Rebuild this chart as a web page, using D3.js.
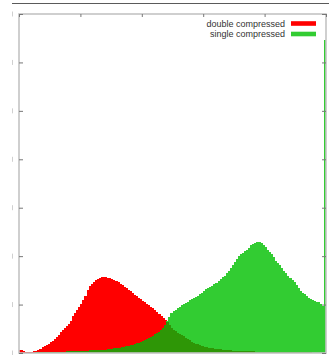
<!DOCTYPE html>
<html>
<head>
<meta charset="utf-8">
<script src="https://cdn.jsdelivr.net/npm/d3@7"></script>
<style>
  html, body { margin: 0; padding: 0; background: #fff; }
  svg { display: block; }
</style>
</head>
<body>
<svg id="chart" width="329" height="355"></svg>
<script>
// Histogram: share of blocks per bin (150 bins), two overlapping distributions
const seriesNames = ["double compressed", "single compressed"];
const seriesColors = ["#ff0000", "#32cc32"];
const overlapColor = "#2e9606";

const binCount = 150;
const yTicks = [0, 1, 2, 3, 4, 5, 6, 7];
const xTicks = [0, 30, 60, 90, 120, 150];

const doubleCompressed = [
  0.062,0.052,0.035,0.025,0.021,0.021,0.025,0.031,0.041,0.062,
  0.089,0.114,0.140,0.165,0.190,0.217,0.248,0.283,0.326,0.372,
  0.427,0.475,0.516,0.557,0.603,0.671,0.754,0.830,0.888,0.940,
  1.012,1.094,1.187,1.301,1.383,1.435,1.476,1.511,1.532,1.549,
  1.559,1.565,1.563,1.557,1.547,1.528,1.503,1.483,1.462,1.435,
  1.404,1.371,1.338,1.305,1.270,1.237,1.202,1.171,1.138,1.107,
  1.078,1.045,1.014,0.985,0.954,0.921,0.886,0.849,0.811,0.772,
  0.727,0.681,0.630,0.568,0.520,0.483,0.450,0.423,0.396,0.368,
  0.341,0.314,0.289,0.262,0.237,0.215,0.194,0.176,0.159,0.145,
  0.132,0.122,0.113,0.105,0.097,0.090,0.084,0.078,0.073,0.068,
  0.064,0.059,0.056,0.053,0.050,0.048,0.046,0.044,0.042,0.040,
  0.038,0.036,0.034,0.033,0.031,0.030,0.029,0.027,0.026,0.025,
  0.024,0.023,0.022,0.021,0.020,0.019,0.018,0.018,0.017,0.016,
  0.016,0.015,0.015,0.014,0.014,0.013,0.013,0.012,0.012,0.012,
  0.011,0.011,0.011,0.010,0.010,0.010,0.010,0.009,0.009,0.009
];

const singleCompressed = [
  0.006,0.007,0.008,0.008,0.009,0.009,0.010,0.010,0.011,0.012,
  0.014,0.015,0.016,0.017,0.018,0.019,0.020,0.021,0.022,0.023,
  0.025,0.028,0.030,0.032,0.035,0.037,0.039,0.040,0.041,0.042,
  0.043,0.045,0.048,0.050,0.052,0.054,0.056,0.058,0.060,0.062,
  0.065,0.066,0.070,0.074,0.083,0.089,0.095,0.101,0.105,0.109,
  0.120,0.128,0.138,0.149,0.159,0.173,0.186,0.198,0.215,0.233,
  0.252,0.273,0.289,0.310,0.330,0.361,0.386,0.413,0.440,0.475,
  0.506,0.568,0.661,0.743,0.816,0.857,0.892,0.923,0.954,0.985,
  1.016,1.039,1.063,1.088,1.111,1.136,1.160,1.187,1.218,1.249,
  1.284,1.317,1.342,1.367,1.392,1.419,1.445,1.480,1.518,1.559,
  1.600,1.652,1.703,1.755,1.807,1.869,1.931,1.993,2.034,2.065,
  2.096,2.137,2.178,2.220,2.251,2.271,2.282,2.282,2.271,2.240,
  2.189,2.137,2.085,2.034,1.972,1.910,1.858,1.807,1.749,1.697,
  1.648,1.600,1.549,1.503,1.456,1.394,1.338,1.290,1.249,1.212,
  1.177,1.146,1.119,1.094,1.078,1.063,1.043,1.006,0.977,6.463
];

const svg = d3.select("#chart");
const margin = { left: 19, top: 14, right: 3, bottom: 2 };
const W = 329, H = 355;
const plotW = W - margin.left - margin.right;
const plotH = H - margin.top - margin.bottom;

const x = d3.scaleLinear().domain([0, binCount]).range([margin.left, margin.left + plotW]);
const y = d3.scaleLinear().domain([0, 7]).range([margin.top + plotH, margin.top]);

// rule across the top of the page
svg.append("line")
  .attr("x1", 12).attr("x2", W).attr("y1", 3.5).attr("y2", 3.5)
  .attr("stroke", "#5a5a5a").attr("stroke-width", 1.2);

const bins = d3.range(binCount).map(i => ({
  i,
  a: doubleCompressed[i],
  b: singleCompressed[i]
}));

const bars = svg.append("g").attr("shape-rendering", "crispEdges");

function drawLayer(valueOf, color) {
  bars.append("g").selectAll("rect")
    .data(bins)
    .join("rect")
    .attr("x", d => x(d.i))
    .attr("width", d => x(d.i + 1) - x(d.i) + 0.3)
    .attr("y", d => y(valueOf(d)))
    .attr("height", d => y(0) - y(valueOf(d)))
    .attr("fill", color);
}

drawLayer(d => d.a, seriesColors[0]);
drawLayer(d => d.b, seriesColors[1]);
drawLayer(d => Math.min(d.a, d.b), overlapColor);

// plot frame
const frame = svg.append("g");
frame.append("rect")
  .attr("x", x(0)).attr("y", y(7))
  .attr("width", x(binCount) - x(0)).attr("height", y(0) - y(7))
  .attr("fill", "none").attr("stroke", "#c4c4c4").attr("stroke-width", 1.6);

// inward ticks on all four sides
const tickColor = "#777";
function styleAxis(g) {
  g.select(".domain").remove();
  g.selectAll(".tick line").attr("stroke", tickColor).attr("stroke-width", 1);
  g.selectAll(".tick text").remove();
}
svg.append("g").attr("transform", `translate(${x(0)},0)`)
  .call(d3.axisLeft(y).tickValues(yTicks).tickSize(-4).tickFormat("")).call(styleAxis);
svg.append("g").attr("transform", `translate(${x(binCount)},0)`)
  .call(d3.axisRight(y).tickValues(yTicks).tickSize(-4).tickFormat("")).call(styleAxis);
svg.append("g").attr("transform", `translate(0,${y(7)})`)
  .call(d3.axisTop(x).tickValues(xTicks).tickSize(-3).tickFormat("")).call(styleAxis);

// faint marks left of the axis at each y tick
svg.append("g").selectAll("line")
  .data(yTicks)
  .join("line")
  .attr("x1", 12.5).attr("x2", 12.5)
  .attr("y1", d => y(d) - 2.5).attr("y2", d => y(d) + 2.5)
  .attr("stroke", "#d0d0d0").attr("stroke-width", 1);

// legend
const legend = svg.append("g");
seriesNames.forEach((name, k) => {
  const cy = 23.5 + k * 10.5;
  legend.append("text")
    .attr("x", 285).attr("y", cy + 3.2)
    .attr("text-anchor", "end")
    .attr("font-family", "'Liberation Sans', Arial, sans-serif")
    .attr("font-size", 9)
    .attr("fill", "#333")
    .text(name);
  legend.append("rect")
    .attr("x", 291).attr("y", cy - 2.3)
    .attr("width", 25).attr("height", 4.6)
    .attr("fill", seriesColors[k]);
});
</script>
</body>
</html>
